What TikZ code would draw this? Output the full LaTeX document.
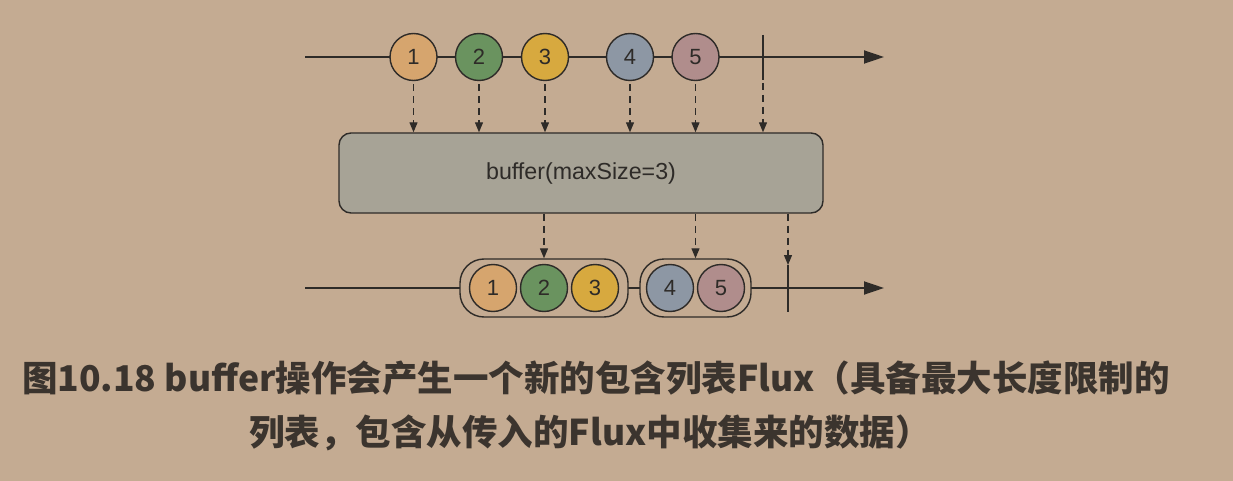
\documentclass[tikz,border=0pt]{standalone}
\usepackage{fontspec}
\setsansfont{Liberation Sans}
\newfontfamily\cjk{Noto Sans CJK SC}
\usetikzlibrary{arrows.meta,positioning}
\definecolor{bg}{HTML}{C4AB92}
\definecolor{ink}{HTML}{2E2B28}
\definecolor{capink}{HTML}{3B342E}
\definecolor{boxfill}{HTML}{A7A396}
\definecolor{one}{HTML}{D6A56E}
\definecolor{two}{HTML}{6A935F}
\definecolor{three}{HTML}{D7A93F}
\definecolor{four}{HTML}{8D97A4}
\definecolor{five}{HTML}{B08D8C}

\begin{document}
\begin{tikzpicture}[x=1pt,y=-1pt,thick]
	\tikzset{marble/.style={circle,draw=ink,line width=1.4pt,minimum width=47pt,inner sep=0pt,
			font=\sffamily\fontsize{22}{22}\selectfont,text=ink}}
	\tikzset{flow/.style={draw=ink,line width=1.8pt,-{Triangle[length=20pt,width=13pt]}}}
	\tikzset{drop/.style={draw=ink,line width=1.2pt,dash pattern=on 7pt off 5pt,
			-{Triangle[length=10pt,width=8pt]}}}
	\tikzset{done/.style={draw=ink,line width=2.6pt}}
	\tikzset{caption/.style={font=\cjk\bfseries\fontsize{35.5}{35.5}\selectfont,text=capink}}
	\useasboundingbox (0,0) rectangle (1233,481);
	\fill[bg] (0,0) rectangle (1233,481);

	% source flux
	\coordinate (inL) at (305,57);
	\coordinate (inR) at (884,57);
	\draw[flow] (inL) -- (inR);
	\node[marble,fill=one] (i1) at (413.5,57) {1};
	\node[marble,fill=two] (i2) at (479,57) {2};
	\node[marble,fill=three] (i3) at (545,57) {3};
	\node[marble,fill=four] (i4) at (630,57) {4};
	\node[marble,fill=five] (i5) at (695.5,57) {5};
	\coordinate (inEndT) at (763,35);
	\coordinate (inEndB) at (763,80);
	\draw[done] (inEndT) -- (inEndB);

	% operator
	\node[draw=ink,line width=1.4pt,fill=boxfill,rounded corners=12pt,minimum width=484pt,
		minimum height=80pt,font=\sffamily\fontsize{23.2}{23.2}\selectfont,text=ink] (buf) at (581,173) {buffer(maxSize=3)};

	\foreach \n in {i1,i2,i3,i4,i5}
		\draw[drop,shorten <=3pt] (\n.south) -- (\n.south |- buf.north);
	\draw[drop,shorten <=3pt] (inEndB) -- (inEndB |- buf.north);

	% buffered flux
	\coordinate (outL) at (305,288);
	\coordinate (outR) at (884,288);
	\draw[flow] (outL) -- (outR);
	\node[draw=ink,line width=1.4pt,fill=bg,rounded corners=24pt,minimum width=168pt,minimum height=58pt] (g1) at (544,288) {};
	\node[draw=ink,line width=1.4pt,fill=bg,rounded corners=24pt,minimum width=111pt,minimum height=58pt] (g2) at (695.5,288) {};
	\node[marble,fill=one] (o1) at (493,288) {1};
	\node[marble,fill=two] (o2) at (544,288) {2};
	\node[marble,fill=three] (o3) at (595,288) {3};
	\node[marble,fill=four] (o4) at (670,288) {4};
	\node[marble,fill=five] (o5) at (721,288) {5};
	\coordinate (outEndT) at (788,265);
	\coordinate (outEndB) at (788,312);
	\draw[done] (outEndT) -- (outEndB);

	\draw[drop] (buf.south -| g1.north) -- (g1.north);
	\draw[drop] (buf.south -| g2.north) -- (g2.north);
	\draw[drop] (buf.south -| outEndT) -- (outEndT);

	% caption
	\node[caption] (cap1) at (596,378) {图10.18 buffer操作会产生一个新的包含列表Flux（具备最大长度限制的};
	\node[caption] (cap2) at (590,433) {列表，包含从传入的Flux中收集来的数据）};
\end{tikzpicture}
\end{document}
